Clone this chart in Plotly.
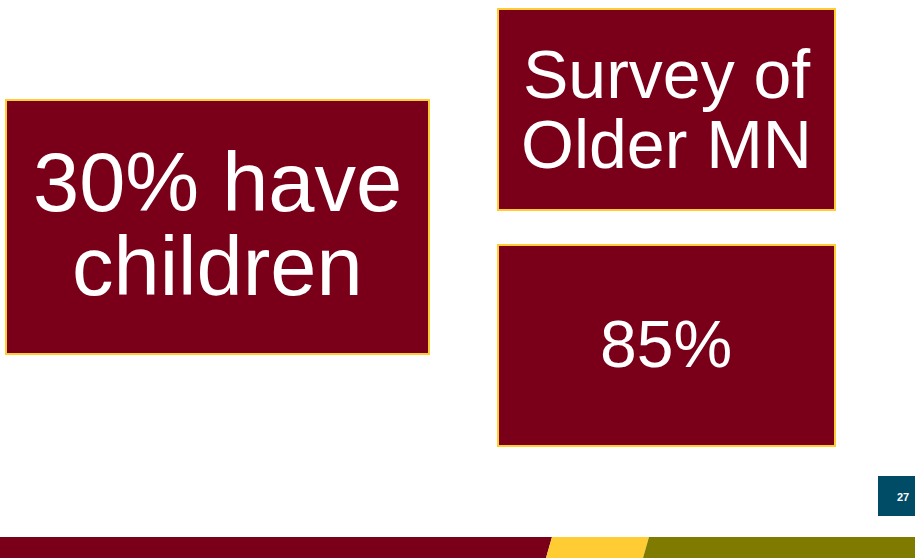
import plotly.graph_objects as go

# Slide content
left_lines = ["30% have", "children"]
top_right_lines = ["Survey of", "Older MN"]
bottom_right_lines = ["85%"]
page_number = "27"

MAROON = "#7A0019"
GOLD = "#FFCC33"
OLIVE = "#7F7A00"
TEAL = "#004B66"
W, H = 915, 558

fig = go.Figure()
fig.update_layout(
    width=W, height=H, margin=dict(l=0, r=0, t=0, b=0),
    paper_bgcolor="white", plot_bgcolor="white", showlegend=False,
    xaxis=dict(range=[0, W], visible=False, fixedrange=True),
    yaxis=dict(range=[H, 0], visible=False, fixedrange=True),
)

shapes = []
def box(x0, y0, x1, y1):
    shapes.append(dict(type="rect", x0=x0, y0=y0, x1=x1, y1=y1,
                       fillcolor=MAROON, line=dict(color=GOLD, width=2), layer="below"))
box(6, 100, 429, 354)
box(498, 9, 835, 210)
box(498, 245, 835, 446)
shapes.append(dict(type="rect", x0=878, y0=476, x1=915, y1=516, fillcolor=TEAL, line=dict(width=0)))
# bottom band
shapes.append(dict(type="path", path="M0,537 L552,537 L546,558 L0,558 Z", fillcolor=MAROON, line=dict(width=0)))
shapes.append(dict(type="path", path="M552,537 L649,537 L643,558 L546,558 Z", fillcolor=GOLD, line=dict(width=0)))
shapes.append(dict(type="path", path="M649,537 L915,537 L915,558 L643,558 Z", fillcolor=OLIVE, line=dict(width=0)))
fig.update_layout(shapes=shapes)

FONT = "Liberation Sans, Arial, sans-serif"
ann = []
def txt(s, x, y, size, color="white", bold=False):
    ann.append(dict(text=f"<b>{s}</b>" if bold else s, x=x, y=y, xref="x", yref="y",
                    showarrow=False, xanchor="center", yanchor="middle",
                    font=dict(family=FONT, size=size, color=color)))
for s, y in zip(left_lines, [182, 266]):
    txt(s, 217.5, y, 83)
for s, y in zip(top_right_lines, [74, 144]):
    txt(s, 666, y, 68)
for s, y in zip(bottom_right_lines, [344]):
    txt(s, 666, y, 66)
txt(page_number, 903, 497, 11, bold=True)
fig.update_layout(annotations=ann)

fig.write_html("out.html", config={"displayModeBar": False, "staticPlot": True})
with open("out.html", encoding="utf-8") as f:
    html = f.read()
html = html.replace("<body>", '<body style="margin:0;padding:0;overflow:hidden">', 1)
with open("out.html", "w", encoding="utf-8") as f:
    f.write(html)
